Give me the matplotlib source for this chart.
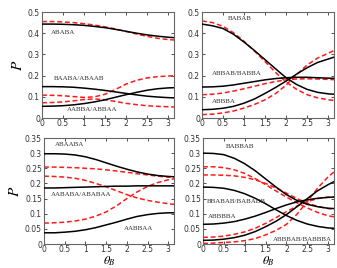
import numpy as np
import matplotlib
matplotlib.use("Agg")
import matplotlib.pyplot as plt

plt.rcParams['mathtext.fontset'] = 'stix'

theta = [0, 0.25, 0.5, 0.75, 1.0, 1.25, 1.5, 1.75, 2.0, 2.25, 2.5, 2.75, 3.0, 3.14]

# Top-left panel
tl_black = [
    [0.443, 0.443, 0.442, 0.440, 0.437, 0.432, 0.426, 0.418, 0.409, 0.400, 0.392, 0.386, 0.381, 0.379],
    [0.148, 0.148, 0.147, 0.145, 0.141, 0.136, 0.130, 0.123, 0.116, 0.109, 0.103, 0.099, 0.096, 0.095],
    [0.055, 0.056, 0.058, 0.062, 0.068, 0.076, 0.086, 0.098, 0.110, 0.121, 0.131, 0.138, 0.142, 0.143],
]
tl_red = [
    [0.455, 0.455, 0.453, 0.450, 0.445, 0.438, 0.430, 0.420, 0.408, 0.396, 0.385, 0.376, 0.370, 0.368],
    [0.108, 0.107, 0.105, 0.101, 0.097, 0.100, 0.112, 0.135, 0.160, 0.178, 0.189, 0.195, 0.198, 0.199],
    [0.072, 0.073, 0.076, 0.081, 0.087, 0.090, 0.086, 0.078, 0.069, 0.063, 0.058, 0.055, 0.053, 0.052],
]
tl_labels = ["ABABA", "BAABA/ABAAB", "AABBA/ABBAA"]
tl_label_pos = [(0.21, 0.405), (0.29, 0.184), (0.59, 0.038)]

# Top-right panel
tr_black = [
    [0.443, 0.435, 0.422, 0.395, 0.358, 0.318, 0.275, 0.232, 0.190, 0.158, 0.135, 0.121, 0.114, 0.112],
    [0.146, 0.147, 0.150, 0.156, 0.164, 0.172, 0.180, 0.186, 0.190, 0.192, 0.192, 0.190, 0.188, 0.187],
    [0.039, 0.041, 0.046, 0.055, 0.070, 0.090, 0.116, 0.144, 0.174, 0.207, 0.237, 0.262, 0.278, 0.287],
]
tr_red = [
    [0.458, 0.450, 0.432, 0.402, 0.362, 0.315, 0.266, 0.215, 0.170, 0.135, 0.110, 0.095, 0.086, 0.083],
    [0.110, 0.112, 0.118, 0.127, 0.138, 0.150, 0.162, 0.172, 0.180, 0.184, 0.185, 0.184, 0.182, 0.181],
    [0.016, 0.018, 0.024, 0.033, 0.047, 0.064, 0.086, 0.115, 0.155, 0.205, 0.250, 0.283, 0.305, 0.318],
]
tr_labels = ["BABAB", "ABBAB/BABBA", "ABBBA"]
tr_label_pos = [(0.62, 0.467), (0.24, 0.212), (0.24, 0.080)]

# Bottom-left panel
bl_black = [
    [0.298, 0.298, 0.297, 0.294, 0.288, 0.279, 0.268, 0.257, 0.247, 0.238, 0.231, 0.226, 0.223, 0.222],
    [0.185, 0.185, 0.186, 0.187, 0.188, 0.189, 0.190, 0.191, 0.191, 0.192, 0.192, 0.192, 0.192, 0.192],
    [0.037, 0.037, 0.039, 0.042, 0.047, 0.054, 0.063, 0.072, 0.082, 0.091, 0.097, 0.101, 0.103, 0.103],
]
bl_red = [
    [0.254, 0.254, 0.253, 0.252, 0.250, 0.248, 0.245, 0.241, 0.237, 0.232, 0.228, 0.224, 0.221, 0.220],
    [0.224, 0.223, 0.221, 0.217, 0.210, 0.200, 0.189, 0.176, 0.163, 0.152, 0.144, 0.138, 0.133, 0.131],
    [0.069, 0.070, 0.072, 0.076, 0.082, 0.092, 0.106, 0.126, 0.150, 0.172, 0.190, 0.203, 0.212, 0.215],
]
bl_labels = ["ABAABA", "AABABA/ABABAA", "AABBAA"]
bl_label_pos = [(0.27, 0.327), (0.17, 0.165), (1.93, 0.050)]

# Bottom-right panel
br_black = [
    [0.300, 0.299, 0.295, 0.283, 0.265, 0.242, 0.215, 0.188, 0.163, 0.144, 0.131, 0.123, 0.118, 0.117],
    [0.188, 0.187, 0.184, 0.177, 0.166, 0.151, 0.133, 0.113, 0.094, 0.078, 0.066, 0.058, 0.053, 0.052],
    [0.065, 0.066, 0.069, 0.074, 0.082, 0.092, 0.104, 0.117, 0.129, 0.139, 0.146, 0.151, 0.154, 0.155],
    [0.012, 0.013, 0.016, 0.021, 0.029, 0.041, 0.057, 0.075, 0.097, 0.123, 0.150, 0.176, 0.196, 0.206],
]
br_red = [
    [0.255, 0.255, 0.252, 0.245, 0.233, 0.216, 0.196, 0.175, 0.155, 0.136, 0.119, 0.104, 0.093, 0.090],
    [0.228, 0.228, 0.227, 0.225, 0.220, 0.212, 0.200, 0.185, 0.168, 0.150, 0.135, 0.124, 0.117, 0.115],
    [0.022, 0.023, 0.026, 0.032, 0.040, 0.052, 0.068, 0.087, 0.107, 0.125, 0.140, 0.150, 0.155, 0.156],
    [0.002, 0.003, 0.005, 0.007, 0.011, 0.018, 0.030, 0.045, 0.065, 0.098, 0.140, 0.185, 0.222, 0.238],
]
br_labels = ["BABBAB", "BBABAB/BABABB", "ABBBBA", "ABBBAB/BABBBA"]
br_label_pos = [(0.55, 0.323), (0.10, 0.139), (0.12, 0.092), (1.68, 0.016)]

top_yticks = [0, 0.1, 0.2, 0.3, 0.4, 0.5]
top_yticklabels = ["0", "0.1", "0.2", "0.3", "0.4", "0.5"]
bot_yticks = [0, 0.05, 0.1, 0.15, 0.2, 0.25, 0.3, 0.35]
bot_yticklabels = ["0", "0.05", "0.1", "0.15", "0.2", "0.25", "0.3", "0.35"]
xticks = [0, 0.5, 1, 1.5, 2, 2.5, 3]
xticklabels = ["0", "0.5", "1", "1.5", "2", "2.5", "3"]

fig = plt.figure(figsize=(3.37, 2.68), dpi=100)
W, H = 337.0, 268.0
rects = {
    'tl': (42, 12, 174, 118),
    'tr': (202, 12, 334, 118),
    'bl': (44, 138, 174, 244),
    'br': (203, 138, 334, 244),
}
panels = {
    'tl': (tl_black, tl_red, tl_labels, tl_label_pos, 0.5, top_yticks, top_yticklabels),
    'tr': (tr_black, tr_red, tr_labels, tr_label_pos, 0.5, top_yticks, top_yticklabels),
    'bl': (bl_black, bl_red, bl_labels, bl_label_pos, 0.35, bot_yticks, bot_yticklabels),
    'br': (br_black, br_red, br_labels, br_label_pos, 0.35, bot_yticks, bot_yticklabels),
}
frame_col = '#666666'
for key, (x0, y0, x1, y1) in rects.items():
    ax = fig.add_axes([x0 / W, 1 - y1 / H, (x1 - x0) / W, (y1 - y0) / H])
    blacks, reds, labels, lpos, ymax, yt, ytl = panels[key]
    for r in reds:
        ax.plot(theta, r, color='#ff1a1a', lw=1.1, ls=(0, (3.2, 1.8)), zorder=2)
    for b in blacks:
        ax.plot(theta, b, color='black', lw=1.1, zorder=3)
    for lab, (lx, ly) in zip(labels, lpos):
        ax.text(lx, ly, lab, fontsize=5.0, family='Liberation Serif', color='#333333',
                ha='left', va='center')
    ax.set_xlim(0, 3.14)
    ax.set_ylim(0, ymax)
    ax.set_xticks(xticks)
    ax.set_xticklabels(xticklabels)
    ax.set_yticks(yt)
    ax.set_yticklabels(ytl)
    ax.tick_params(direction='in', length=2, width=0.6, labelsize=5.5,
                   top=True, right=True, pad=1.5, colors='#333333')
    ax.tick_params(axis='x', pad=1)
    for s in ax.spines.values():
        s.set_color(frame_col)
        s.set_linewidth(0.8)
    if key in ('tl', 'bl'):
        ax.set_ylabel(r'$P$', fontsize=11, labelpad=2)
    if key in ('bl', 'br'):
        fig.text((x0 + x1) / 2 / W, 0.5 / H, r'$\theta_B$', fontsize=8.8,
                 ha='center', va='bottom')

fig.savefig('out.png', dpi=100)
